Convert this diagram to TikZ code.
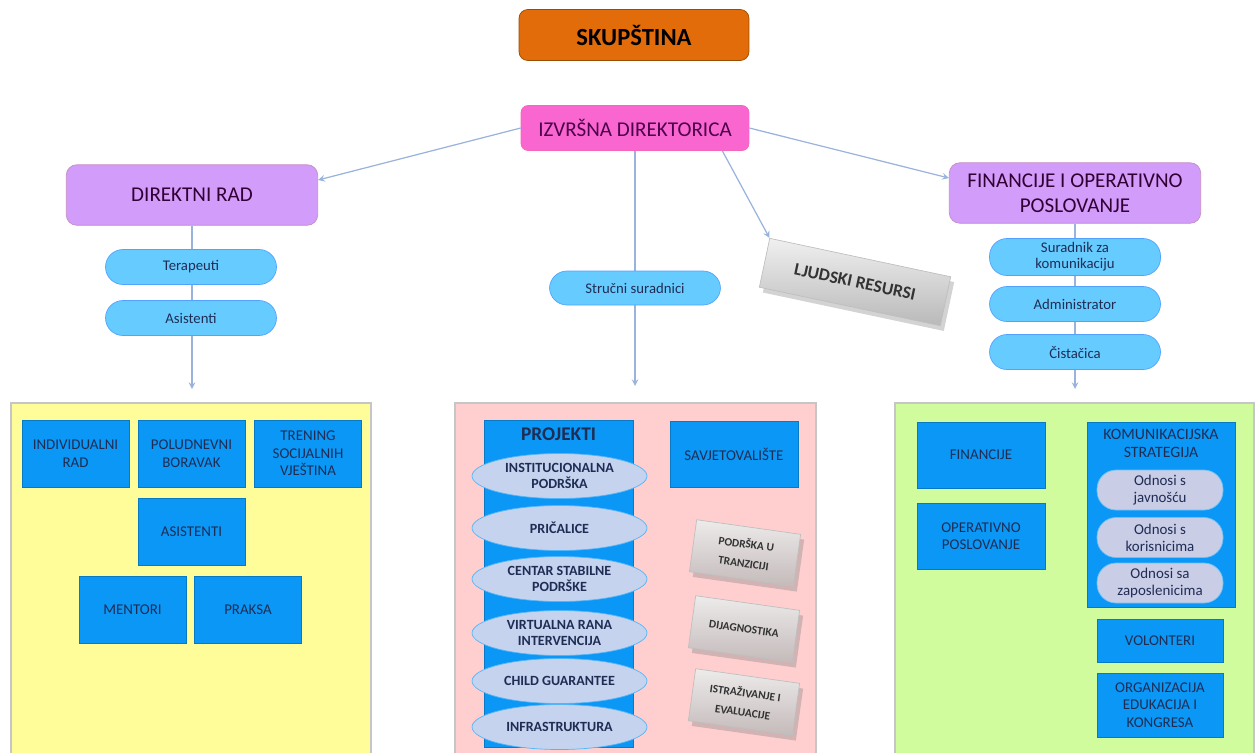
\documentclass[tikz,border=0pt]{standalone}
\usepackage{fontspec}
\setmainfont{Carlito}
\usetikzlibrary{arrows,
  calc,
  positioning,
  shapes,
  shadows
}
\definecolor{skorange}{HTML}{E36C0A}
\definecolor{dirpink}{HTML}{FA66D0}
\definecolor{unitviolet}{HTML}{D19CFA}
\definecolor{pillcyan}{HTML}{66CCFF}
\definecolor{boxblue}{HTML}{0A97F5}
\definecolor{boxtext}{HTML}{1F2D55}
\definecolor{panelyellow}{HTML}{FFFD99}
\definecolor{panelpink}{HTML}{FFCFCF}
\definecolor{panelgreen}{HTML}{D0FC9E}
\definecolor{projoval}{HTML}{C6D3EE}
\definecolor{komoval}{HTML}{C9CDE6}
\definecolor{connblue}{HTML}{9AB3DC}

\tikzstyle{panel} = [draw=gray!45, line width=0.6pt]
\tikzstyle{orangebox} = [draw=orange!60!black, fill=skorange, rounded corners=5pt,
  minimum width=4.6cm, minimum height=1.02cm, font=\fontsize{14}{16}\selectfont\bfseries]
\tikzstyle{pinkbox} = [draw=magenta!60, fill=dirpink, rounded corners=4pt,
  minimum width=4.56cm, minimum height=0.9cm, text=violet!60!black,
  font=\fontsize{12}{14}\selectfont]
\tikzstyle{violetbox} = [draw=violet!45, fill=unitviolet, rounded corners=6pt,
  minimum width=5.03cm, minimum height=1.21cm, text=violet!40!black, align=center,
  font=\fontsize{12}{14}\selectfont]
\tikzstyle{pill} = [draw=pillcyan!80!blue, fill=pillcyan, rounded corners=0.35cm,
  minimum width=3.42cm, minimum height=0.7cm, inner sep=1pt, text=boxtext, align=center,
  font=\fontsize{8.4}{9.2}\selectfont]
\tikzstyle{bluebox} = [draw=boxblue!80!black, fill=boxblue, minimum width=2.14cm,
  minimum height=1.34cm, text=boxtext, align=center, font=\fontsize{8.5}{10}\selectfont]
\tikzstyle{projoval} = [ellipse, draw=boxblue!70, fill=projoval, minimum width=3.5cm,
  minimum height=0.9cm, inner sep=0pt, text=boxtext, align=center,
  font=\fontsize{8}{9}\selectfont\bfseries]
\tikzstyle{komoval} = [draw=boxblue!60, fill=komoval, rounded corners=0.38cm,
  minimum width=2.52cm, minimum height=0.8cm, inner sep=1pt, text=boxtext, align=center,
  font=\fontsize{8.5}{9.8}\selectfont]
\tikzstyle{bevel} = [draw=gray!50, top color=gray!12, bottom color=gray!55,
  drop shadow={shadow xshift=2pt, shadow yshift=-3pt, opacity=0.35}, align=center,
  text=black!80]
\tikzstyle{conn} = [draw=connblue, line width=0.7pt, ->, >=stealth]

\begin{document}
\begin{tikzpicture}[x=0.02cm, y=-0.02cm]
  \useasboundingbox (0, 0) rectangle (1256, 752);

  \draw[panel, fill=panelyellow] (11, 403) rectangle (371, 770);
  \draw[panel, fill=panelpink] (455, 403) rectangle (816, 770);
  \draw[panel, fill=panelgreen] (895, 403) rectangle (1254, 770);

  \node[orangebox] (skup) at (634, 35) {SKUPŠTINA};
  \node[pinkbox] (izv) at (635, 128) {IZVRŠNA DIREKTORICA};
  \node[violetbox] (dir) at (192, 195) {DIREKTNI RAD};
  \node[violetbox] (fin) at (1075, 193) {FINANCIJE I OPERATIVNO\\POSLOVANJE};
  \node[bevel, rotate=-12, minimum width=3.7cm, minimum height=1cm,
    font=\fontsize{10}{12}\selectfont\bfseries] (ljud) at (855, 282) {LJUDSKI RESURSI};

  \coordinate (dirend) at (192, 389);
  \coordinate (izvend) at (635, 386);
  \coordinate (finend) at (1075, 389);

  \draw[conn] (dir.south) -- (dirend);
  \draw[conn] (izv.south) -- (izvend);
  \draw[conn] (fin.south) -- (finend);
  \draw[conn] (izv.west) -- ([yshift=3mm]dir.east);
  \draw[conn] (izv.east) -- ([yshift=3mm]fin.west);
  \draw[conn] ([xshift=-5.4mm]izv.south east) -- (ljud.north west);

  \node[pill] (tera) at (191, 267) {Terapeuti};
  \node[pill] (asis) at (191, 318) {Asistenti};
  \node[pill, minimum height=0.68cm] (stru) at (635, 288) {Stručni suradnici};
  \node[pill, minimum height=0.74cm] (sura) at (1075, 257) {Suradnik za\\komunikaciju};
  \node[pill] (admin) at (1075, 304) {Administrator};
  \node[pill] (cist) at (1075, 352) {Čistačica};

  % direktni rad
  \node[bluebox] (indiv) at (75.5, 453.5) {INDIVIDUALNI\\RAD};
  \node[bluebox] (polud) at (191.5, 453.5) {POLUDNEVNI\\BORAVAK};
  \node[bluebox] (trening) at (308, 453.5) {TRENING\\SOCIJALNIH\\VJEŠTINA};
  \node[bluebox] (asist) at (191.5, 531.5) {ASISTENTI};
  \node[bluebox] (mentor) at (132.5, 610) {MENTORI};
  \node[bluebox] (praksa) at (248, 610) {PRAKSA};

  % strucni suradnici
  \node[bluebox, minimum width=2.98cm, minimum height=6.54cm,
    label={[text=boxtext, font=\fontsize{11}{13}\selectfont\bfseries, below=1pt]north:PROJEKTI}]
    (proj) at (558.5, 583.5) {};
  \node[bluebox, minimum width=2.56cm, minimum height=1.32cm] (savj) at (734, 454) {SAVJETOVALIŠTE};
  \node[projoval] (inst) at (559.5, 476) {INSTITUCIONALNA\\PODRŠKA};
  \node[projoval] (pric) at (559.5, 528) {PRIČALICE};
  \node[projoval] (centar) at (559.5, 579) {CENTAR STABILNE\\PODRŠKE};
  \node[projoval] (virt) at (559.5, 633) {VIRTUALNA RANA\\INTERVENCIJA};
  \node[projoval] (child) at (559.5, 681) {CHILD GUARANTEE};
  \node[projoval] (infra) at (559.5, 727) {INFRASTRUKTURA};
  \tikzstyle{smallbevel} = [bevel, rotate=-8, minimum width=2.1cm, minimum height=1.05cm,
    top color=red!6!gray!15, bottom color=red!8!gray!50, font=\fontsize{6.5}{11}\selectfont\bfseries]
  \node[smallbevel] (tranz) at (745, 553) {PODRŠKA U\\TRANZICIJI};
  \node[smallbevel] (dijag) at (744, 629) {DIJAGNOSTIKA};
  \node[smallbevel] (istr) at (744, 702) {ISTRAŽIVANJE I\\EVALUACIJE};

  % financije
  \node[bluebox, minimum width=2.56cm, minimum height=1.32cm] (finan) at (981, 455) {FINANCIJE};
  \node[bluebox, minimum width=2.56cm, minimum height=1.32cm] (oper) at (981, 536) {OPERATIVNO\\POSLOVANJE};
  \node[bluebox, minimum width=2.96cm, minimum height=3.7cm,
    label={[text=boxtext, font=\fontsize{9}{10}\selectfont, align=center, below=1pt]north:KOMUNIKACIJSKA\\STRATEGIJA}]
    (komun) at (1161, 514.5) {};
  \node[komoval] (javn) at (1160, 490) {Odnosi s\\javnošću};
  \node[komoval] (koris) at (1160, 537.5) {Odnosi s\\korisnicima};
  \node[komoval] (zapos) at (1160, 583) {Odnosi sa\\zaposlenicima};
  \node[bluebox, minimum width=2.52cm, minimum height=0.86cm] (volon) at (1160, 640.5) {VOLONTERI};
  \node[bluebox, minimum width=2.52cm, minimum height=1.28cm] (organ) at (1160, 705) {ORGANIZACIJA\\EDUKACIJA I\\KONGRESA};
\end{tikzpicture}
\end{document}
